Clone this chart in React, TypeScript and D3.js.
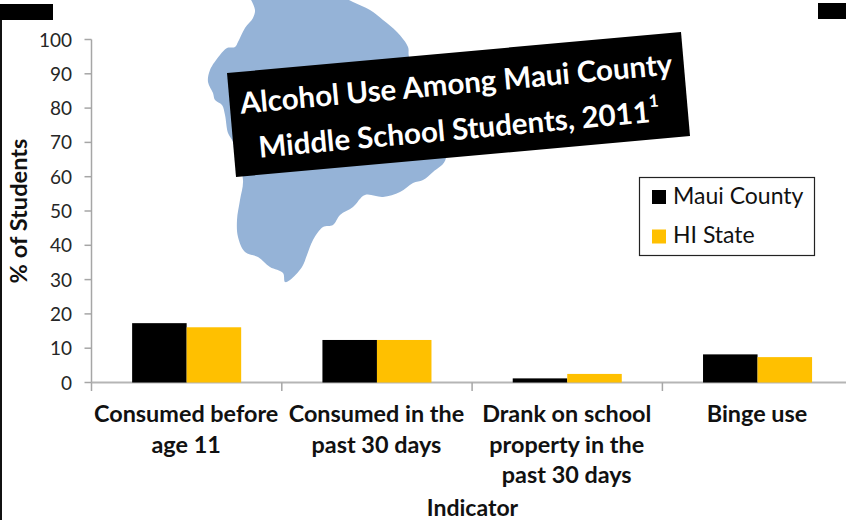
import React from "react";
import * as d3 from "d3";

const categories = ["Consumed before age 11", "Consumed in the past 30 days", "Drank on school property in the past 30 days", "Binge use"];
const categoryLines = [["Consumed before", "age 11"], ["Consumed in the", "past 30 days"], ["Drank on school", "property in the", "past 30 days"], ["Binge use"]];
const seriesNames = ["Maui County", "HI State"];
const seriesColors = ["#000000", "#FFC000"];
const mauiCounty = [17.3, 12.4, 1.2, 8.2];
const hiState = [16.1, 12.4, 2.5, 7.4];
const yTicks = [0, 10, 20, 30, 40, 50, 60, 70, 80, 90, 100];
const island: [number, number][] = [[250,-2],[255,10],[253,18],[245,28],[238,42],[235,47],[227,48],[220,55],[210,70],[208,82],[213,93],[215,100],[222,105],[225,115],[228,133],[233,142],[243,180],[240,200],[237,220],[238,237],[245,252],[258,257],[270,267],[283,273],[285,282],[290,280],[302,267],[307,255],[313,240],[323,227],[333,225],[340,215],[353,207],[365,195],[383,197],[400,192],[413,183],[423,180],[433,172],[446,158],[409,57],[408,47],[397,32],[383,20],[370,10],[353,2],[345,-2]];
const titleBox: [number, number][] = [[227,73],[681,32],[690,136],[236,177]];

const FONT = "Lato, 'Open Sans', sans-serif";
const x0 = 91.5, y0 = 382.5, yTop = 39.5, step = 190.3;

export default function App() {
  const y = d3.scaleLinear().domain([0, 100]).range([y0, yTop]);
  const x = d3.scaleBand<string>().domain(categories).range([x0, x0 + step * 4]).paddingInner(0.427).paddingOuter(0.2135);
  const xs = d3.scaleBand<string>().domain(seriesNames).range([0, x.bandwidth()]);
  const islandPath = d3.line().curve(d3.curveCatmullRom)(island) || "";
  const series = [mauiCounty, hiState];
  const catEdges = d3.range(0, 5).map((i) => x0 + i * step);
  return (
    <svg width={846} height={520} style={{ position: "fixed", left: 0, top: 0, background: "#fff" }} fontFamily={FONT}>
      <rect x={0} y={4} width={53} height={16} fill="#000" />
      <rect x={818} y={3} width={28} height={16} fill="#000" />
      <rect x={0} y={20} width={2} height={500} fill="#111" />
      <path d={islandPath} fill="#95B3D7" />
      <line x1={x0} x2={x0} y1={yTop} y2={y0} stroke="#A6A6A6" strokeWidth={1.5} />
      <line x1={x0} x2={846} y1={y0} y2={y0} stroke="#B5B5B5" strokeWidth={2} />
      {yTicks.map((t) => (
        <g key={t}>
          <line x1={84.5} x2={x0} y1={y(t)} y2={y(t)} stroke="#A6A6A6" strokeWidth={1.5} />
          <text x={72} y={y(t) + 7} textAnchor="end" fontSize={19} fill="#262626">{t}</text>
        </g>
      ))}
      {catEdges.map((e) => (
        <line key={e} x1={e} x2={e} y1={y0} y2={391} stroke="#A6A6A6" strokeWidth={1.5} />
      ))}
      {series.map((vals, s) =>
        vals.map((v, i) => (
          <rect key={s + "-" + i} x={(x(categories[i]) as number) + (xs(seriesNames[s]) as number)} y={y(v)} width={xs.bandwidth()} height={y0 - y(v)} fill={seriesColors[s]} />
        ))
      )}
      {categoryLines.map((lines, i) =>
        lines.map((l, j) => (
          <text key={l + j} x={x0 + (i + 0.5) * step - 0.5} y={422 + j * 30.5} textAnchor="middle" fontSize={23.4} fontWeight={700} fill="#111">{l}</text>
        ))
      )}
      <text x={472.5} y={516} textAnchor="middle" fontSize={23} fontWeight={700} fill="#111">Indicator</text>
      <text transform="translate(27,211) rotate(-90)" textAnchor="middle" fontSize={23.6} fontWeight={700} fill="#111">% of Students</text>
      <polygon points={titleBox.map((p) => p.join(",")).join(" ")} fill="#000" />
      <g fill="#fff" fontWeight={700} fontSize={29.5}>
        <text transform="translate(457,94) rotate(-5.2)" textAnchor="middle">Alcohol Use Among Maui County</text>
        <text transform="translate(460,139.5) rotate(-5.2)" textAnchor="middle">Middle School Students, 2011<tspan fontSize={17} dy={-15}>1</tspan></text>
      </g>
      <rect x={639.5} y={177.5} width={175} height={78} fill="#fff" stroke="#222" strokeWidth={1.2} />
      {seriesNames.map((n, i) => (
        <g key={n}>
          <rect x={652} y={190 + i * 39.5} width={14} height={14} fill={seriesColors[i]} />
          <text x={673} y={204 + i * 39} fontSize={23} fill="#111">{n}</text>
        </g>
      ))}
    </svg>
  );
}
